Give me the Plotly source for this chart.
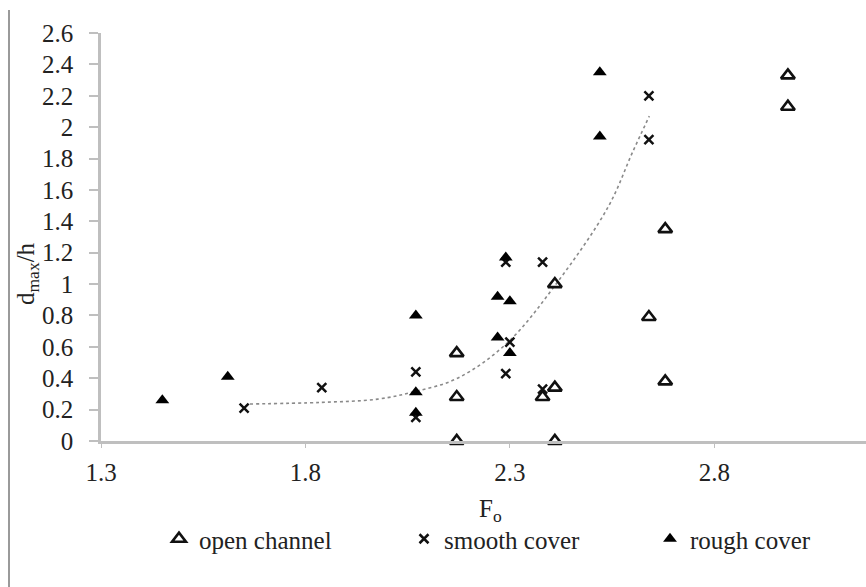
import plotly.graph_objects as go

# Froude number F_o vs relative scour depth d_max/h
open_x = [2.17, 2.17, 2.17, 2.38, 2.41, 2.41, 2.41, 2.64, 2.68, 2.68, 2.98, 2.98]
open_y = [0.56, 0.28, 0.00, 0.28, 1.00, 0.34, 0.00, 0.79, 1.35, 0.38, 2.33, 2.13]

smooth_x = [1.65, 1.84, 2.07, 2.07, 2.29, 2.30, 2.29, 2.38, 2.38, 2.64, 2.64]
smooth_y = [0.21, 0.34, 0.44, 0.15, 1.14, 0.63, 0.43, 1.14, 0.33, 2.20, 1.92]

rough_x = [1.45, 1.61, 2.07, 2.07, 2.07, 2.29, 2.27, 2.30, 2.27, 2.30, 2.52, 2.52]
rough_y = [0.26, 0.41, 0.80, 0.31, 0.18, 1.17, 0.92, 0.89, 0.66, 0.56, 2.35, 1.94]

# trend curve through the smooth-cover cloud
trend_x = [1.664, 1.838, 1.977, 2.066, 2.172, 2.294, 2.414, 2.54, 2.60, 2.641]
trend_y = [0.236, 0.246, 0.267, 0.314, 0.40, 0.626, 1.004, 1.49, 1.84, 2.07]

x_ticks = [1.3, 1.8, 2.3, 2.8]

FONT = "'Liberation Serif', 'Times New Roman', 'DejaVu Serif', serif"
FS = 25
AXIS_GREY = "#bfbfbf"
TXT = "#222"

# plot box in pixels (used to place items that sit outside it)
L, R, T, B = 101, 866, 33, 441
PW, PH = R - L, B - T


def px_x(px):
    return (px - L) / PW


def px_y(py):
    return (B - py) / PH


fig = go.Figure()

fig.add_trace(go.Scatter(
    x=trend_x, y=trend_y, mode="lines", showlegend=False, hoverinfo="skip",
    line=dict(color="#8a8a8a", width=1.6, dash="dot", shape="spline"),
))

fig.add_trace(go.Scatter(
    x=open_x, y=open_y, mode="markers", name="open channel", cliponaxis=False,
    legend="legend",
    marker=dict(symbol="triangle-up-open", size=12, color="#111",
                line=dict(color="#111", width=2.6)),
))
fig.add_trace(go.Scatter(
    x=smooth_x, y=smooth_y, mode="markers", name="smooth cover", cliponaxis=False,
    legend="legend2",
    marker=dict(symbol="x-thin", size=9, color="#111",
                line=dict(color="#111", width=2.5)),
))
fig.add_trace(go.Scatter(
    x=rough_x, y=rough_y, mode="markers", name="rough cover", cliponaxis=False,
    legend="legend3",
    marker=dict(symbol="triangle-up", size=12, color="#000"),
))

legend_common = dict(
    orientation="h", yanchor="top", xanchor="left",
    font=dict(family=FONT, size=FS, color=TXT),
    itemwidth=30, bgcolor="rgba(0,0,0,0)",
)
legend_y = px_y(516)

fig.update_layout(
    width=866, height=587,
    margin=dict(l=L, r=866 - R, t=T, b=587 - B),
    paper_bgcolor="white", plot_bgcolor="white",
    font=dict(family=FONT, size=FS, color=TXT),
    legend=dict(legend_common, x=px_x(182 - 23), y=legend_y),
    legend2=dict(legend_common, x=px_x(427 - 23), y=legend_y),
    legend3=dict(legend_common, x=px_x(673 - 23), y=legend_y),
    xaxis=dict(
        range=[1.3, 3.171], tickmode="array", tickvals=x_ticks,
        ticktext=[str(v) for v in x_ticks],
        showgrid=False, zeroline=False,
        showline=True, linecolor=AXIS_GREY, linewidth=2.5,
        ticks="outside", ticklen=4, tickcolor=AXIS_GREY, tickwidth=1,
        ticklabelstandoff=3,
        tickfont=dict(family=FONT, size=FS, color=TXT),
    ),
    yaxis=dict(
        range=[0, 2.6], dtick=0.2, tick0=0,
        showgrid=False, zeroline=False,
        showline=True, linecolor=AXIS_GREY, linewidth=2.5,
        ticks="outside", ticklen=9, tickcolor=AXIS_GREY, tickwidth=1.5,
        ticklabelstandoff=11,
        tickfont=dict(family=FONT, size=FS, color=TXT),
    ),
    annotations=[
        dict(text="d<sub>max</sub>/h", xref="paper", yref="paper",
             x=px_x(27), y=px_y(274), textangle=-90,
             showarrow=False, xanchor="center", yanchor="middle",
             font=dict(family=FONT, size=FS, color=TXT)),
        dict(text="F<sub>o</sub>", xref="paper", yref="paper",
             x=px_x(490), y=px_y(510),
             showarrow=False, xanchor="center", yanchor="middle",
             font=dict(family=FONT, size=FS, color=TXT)),
    ],
    shapes=[
        dict(type="line", xref="paper", yref="paper",
             x0=px_x(9), x1=px_x(9), y0=px_y(10), y1=px_y(590),
             line=dict(color="#9a9a9a", width=2)),
    ],
)

fig.write_html("out.html")
